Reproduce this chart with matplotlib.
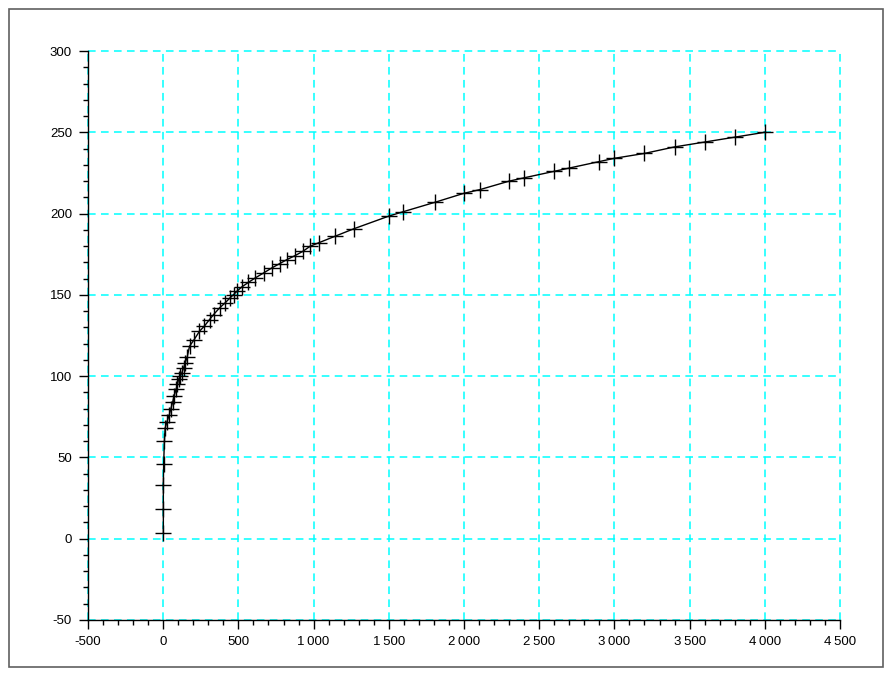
import matplotlib
matplotlib.use("Agg")
import matplotlib.pyplot as plt
from matplotlib.patches import Rectangle
from matplotlib.ticker import MultipleLocator, FixedLocator, FixedFormatter

# valores (x, y)
x_vals = [1, 1, 1, 3, 8, 13, 25, 40, 51, 63, 73, 86, 95, 102, 113, 124, 135, 146, 160,
          175, 206, 241, 273, 308, 335, 375, 412, 445, 468, 490, 523, 567, 612, 668,
          723, 774, 823, 878, 929, 977, 1033, 1144, 1266, 1499, 1594, 1809, 1997, 2108,
          2302, 2400, 2600, 2700, 2900, 3000, 3200, 3400, 3600, 3800, 4000]
y_vals = [3.5, 18, 33, 46, 60, 68, 72, 76, 80, 84, 88, 92, 95, 98, 100, 102, 105, 108, 112,
          118.4, 122.5, 127.6, 130.7, 134.8, 137.9, 142, 145.1, 148.2, 150.2, 152.2, 154.9,
          157.7, 160.4, 163.5, 166.6, 169.2, 171.7, 174.2, 176.8, 179.9, 182, 186.1, 190.6,
          198.4, 201.1, 207, 212.4, 214.8, 220, 222, 226, 228, 232, 234, 237, 241, 244, 247, 250]

x_ticks = [-500, 0, 500, 1000, 1500, 2000, 2500, 3000, 3500, 4000, 4500]
x_tick_labels = ["-500", "0", "500", "1\u2009000", "1\u2009500", "2\u2009000", "2\u2009500",
                 "3\u2009000", "3\u2009500", "4\u2009000", "4\u2009500"]
y_ticks = [-50, 0, 50, 100, 150, 200, 250, 300]
y_tick_labels = ["-50", "0", "50", "100", "150", "200", "250", "300"]

plt.rcParams['font.family'] = ['Liberation Sans', 'DejaVu Sans']

fig = plt.figure(figsize=(8.91, 6.75), dpi=100)
ax = fig.add_axes([88/891, 1 - 620/675, (840 - 88)/891, (620 - 51)/675])

# moldura cinza em volta da figura
fig.patches.append(Rectangle((9/891, 8/675), 874/891, 658/675, transform=fig.transFigure,
                             fill=False, edgecolor='#606060', linewidth=1.2))

ax.plot(x_vals, y_vals, color='black', linewidth=1.0, marker='+', markersize=11,
        markeredgewidth=1.0, zorder=3)

ax.set_xlim(-500, 4500)
ax.set_ylim(-50, 300)
ax.xaxis.set_major_locator(FixedLocator(x_ticks))
ax.xaxis.set_major_formatter(FixedFormatter(x_tick_labels))
ax.yaxis.set_major_locator(FixedLocator(y_ticks))
ax.yaxis.set_major_formatter(FixedFormatter(y_tick_labels))
ax.xaxis.set_minor_locator(MultipleLocator(100))
ax.yaxis.set_minor_locator(MultipleLocator(10))

ax.grid(True, which='major', color='#00ffff', linestyle=(0, (5, 3.5)), linewidth=1.1, zorder=1)
ax.set_axisbelow(True)
for gl in ax.get_xgridlines() + ax.get_ygridlines():
    gl.set_clip_on(False)

for side in ['top', 'right']:
    ax.spines[side].set_visible(False)
for side in ['left', 'bottom']:
    ax.spines[side].set_linewidth(1.0)

ax.tick_params(which='major', direction='out', length=6.5, width=1.0, labelsize=9.5, pad=5)
ax.tick_params(which='minor', direction='out', length=3.5, width=1.0)

fig.savefig("out.png", dpi=100)
